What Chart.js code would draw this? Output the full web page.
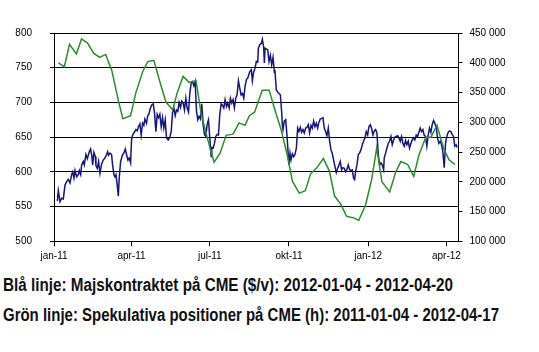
<!DOCTYPE html>
<html>
<head>
<meta charset="utf-8">
<script src="https://cdn.jsdelivr.net/npm/chart.js@4.4.1/dist/chart.umd.min.js"></script>
<style>
  body { margin: 0; background: #fff; }
  #wrap { position: relative; width: 539px; height: 270px; }
  #notes {
    position: absolute; left: 3px; top: 270px;
    font-family: "Liberation Sans", Arial, sans-serif;
    font-weight: bold; font-size: 17.5px; line-height: 30px; color: #111;
    white-space: nowrap;
  }
  #notes span { display: inline-block; transform-origin: 0 50%; }
</style>
</head>
<body>
<div id="wrap"><canvas id="chart"></canvas></div>
<div id="notes">
  <div><span id="line1">Blå linje: Majskontraktet på CME ($/v): 2012-01-04 - 2012-04-20</span></div>
  <div><span id="line2">Grön linje: Spekulativa positioner på CME (h): 2011-01-04 - 2012-04-17</span></div>
</div>
<script>
// x = days since 2011-01-01
var quarterDays = [0, 90, 181, 273, 365, 456];
var quarterLabels = ['jan-11', 'apr-11', 'jul-11', 'okt-11', 'jan-12', 'apr-12'];

// blue: corn future, $/v (left axis)
var blueDays = [3.9,5.0,7.0,8.9,10.8,12.8,14.7,16.6,18.6,20.5,21.7,23.2,24.4,26.3,28.2,29.4,31.0,32.1,34.0,35.2,37.1,38.7,41.0,42.5,44.1,44.9,46.4,48.0,48.7,50.3,51.8,53.4,55.3,57.2,59.2,61.1,62.3,63.4,65.0,66.9,68.1,69.6,70.8,72.0,73.5,74.7,75.8,77.4,79.7,81.2,82.8,84.3,85.9,87.4,89.0,90.1,91.3,92.8,95.2,96.7,98.2,99.8,101.3,102.9,104.4,105.6,107.5,108.7,110.2,
  111.4,113.3,115.3,116.8,118.4,119.9,121.5,123.0,124.6,126.1,127.6,129.2,130.7,132.7,134.6,136.2,137.7,139.3,140.8,142.3,143.9,145.4,147.0,148.5,150.1,151.6,153.2,154.7,156.3,157.8,159.4,160.9,162.5,164.0,165.6,167.1,168.6,170.2,171.7,173.3,174.8,176.4,177.9,179.5,181.0,182.6,183.3,184.9,186.4,188.0,189.5,191.1,192.6,194.2,195.7,197.3,198.8,200.4,201.9,203.5,205.0,206.6,208.1,209.6,211.2,212.7,214.3,215.8,217.4,218.9,220.5,222.0,223.6,225.1,
  227.4,229.3,230.5,232.0,233.6,235.1,236.7,237.5,239.0,241.0,242.1,243.6,244.4,245.2,246.7,248.3,249.8,251.4,252.9,254.5,256.0,256.8,258.3,259.9,261.4,263.0,264.5,265.3,266.1,267.6,269.2,270.7,272.3,273.0,274.2,275.4,276.9,278.5,280.0,281.6,283.1,284.6,286.2,287.7,289.3,290.8,292.4,293.9,295.5,297.0,298.6,300.1,301.7,303.2,304.8,306.3,307.9,309.4,311.0,312.5,314.0,315.6,317.1,318.7,320.2,321.8,323.3,324.9,326.4,328.0,329.5,331.1,332.6,334.2,335.7,337.3,338.8,340.3,341.9,
  343.5,345.0,346.6,348.1,349.3,350.5,352.0,353.6,355.1,356.7,358.2,359.7,361.3,362.8,364.4,365.9,367.5,369.0,370.6,372.1,373.7,375.2,376.8,378.3,379.9,381.4,383.0,383.7,385.3,386.8,388.4,389.9,391.5,393.0,394.6,396.1,397.7,399.2,400.7,402.3,403.8,405.4,406.9,408.5,410.0,411.6,413.1,414.7,416.2,417.8,419.3,420.9,422.4,424.0,425.5,427.0,428.6,430.1,431.7,433.2,434.8,436.3,437.9,439.4,441.0,442.5,444.1,445.6,447.2,448.7,450.3,451.8,453.4,454.9,456.4,458.0,459.5,461.1,462.6,464.2,465.7,467.3,468.4];
var bluePrices = [558,573,557,562,561,581,586,589,584,596,600,591,602,593,596,602,596,610,615,610,625,619,629,633,622,610,628,622,609,605,615,598,611,617,620,625,629,624,627,625,610,596,593,596,581,565,591,615,625,627,633,625,617,620,613,646,653,656,661,659,665,669,653,670,667,676,670,680,683,
  689,696,698,685,658,683,678,683,665,678,663,675,649,646,650,658,685,692,681,689,687,700,693,702,699,689,706,692,686,713,728,730,724,730,687,675,680,676,698,668,654,651,668,675,649,622,635,634,641,651,654,653,682,698,696,692,704,694,699,692,706,699,704,692,706,711,731,721,711,713,706,723,733,735,
  744,747,731,744,749,759,758,778,783,785,791,780,757,778,777,776,759,768,754,765,744,745,718,715,713,711,687,668,661,673,675,653,622,610,627,617,626,622,625,634,663,658,664,657,661,656,663,664,668,656,667,663,673,665,670,663,672,676,677,678,663,658,652,663,645,632,627,617,608,599,605,610,615,603,606,605,600,603,610,
  603,602,603,591,589,601,610,625,627,632,639,644,649,658,653,665,668,663,653,659,661,656,625,610,613,610,603,620,627,634,641,644,651,639,646,650,651,652,649,644,651,641,637,645,639,644,634,641,646,649,646,653,651,657,663,658,661,653,651,637,653,663,657,668,674,670,664,649,641,644,639,629,606,641,651,657,659,658,654,651,637,639,635];

// green: speculative positions, contracts (right axis)
var greenDays = [5,12,18,26,32,39,46,53,60,67,75,80,89,95,103,109,116,123,130,138,143,150,157,165,171,179,186,193,200,208,215,222,227,233,242,250,256,264,271,277,285,292,298,305,313,320,326,333,340,349,354,362,369,375,381,390,397,403,411,418,424,432,438,445,453,459,466];
var greenPositions = [400000,393000,431000,415000,440000,433000,416000,409000,414000,388000,335000,306000,311000,349000,385000,402000,404000,368000,334000,321000,349000,377000,367000,370000,314000,269000,233000,248000,278000,280000,299000,295000,311000,317000,354000,354000,324000,287000,245000,201000,181000,185000,213000,223000,239000,218000,176000,163000,142000,139000,135000,161000,203000,257000,200000,183000,216000,234000,229000,209000,245000,275000,275000,295000,255000,237000,229000];

function spaced(v){
    return String(v).replace(/\B(?=(\d{3})+(?!\d))/g, ' ');
}

// squeeze the caption lines to the condensed width of the original
function squeeze(id, target){
    var el = document.getElementById(id);
    var w = el.getBoundingClientRect().width;
    if (w > 0) el.style.transform = 'scaleX(' + (target / w) + ')';
}
squeeze('line1', 450);
squeeze('line2', 496);

var blue_data = [];
for(var i = 0; i<blueDays.length; i++){
    blue_data.push({x: blueDays[i], y: bluePrices[i]});
}
var green_data = [];
for(var j = 0; j<greenDays.length; j++){
    green_data.push({x: greenDays[j], y: greenPositions[j]});
}

var tickFont = {family: '"Liberation Sans", Arial, sans-serif', size: 10};

const data = {
    datasets: [{
        label: 'Grön linje',
        data: green_data,
        yAxisID: 'y1',
        borderColor: '#2a8c2a',
        borderWidth: 1.5,
        pointRadius: 0,
        tension: 0
    },{
        label: 'Blå linje',
        data: blue_data,
        yAxisID: 'y',
        borderColor: '#15157f',
        borderWidth: 1.5,
        pointRadius: 0,
        tension: 0
    }]
};

const config = {
    type: 'line',
    data,
    options: {
        responsive: true,
        maintainAspectRatio: false,
        animation: false,
        layout: {padding: {top: 33, left: 0, right: 0, bottom: 0}},
        plugins: {
            legend: {display: false},
            tooltip: {enabled: false}
        },
        scales: {
            x: {
                type: 'linear',
                min: 0,
                max: 470,
                afterBuildTicks: function(scale){
                    scale.ticks = quarterDays.map(function(d){ return {value: d}; });
                },
                afterFit: function(scale){ scale.height = 28.7; },
                ticks: {
                    autoSkip: false,
                    maxRotation: 0,
                    padding: 4,
                    color: '#000',
                    font: tickFont,
                    callback: function(value){
                        var k = quarterDays.indexOf(value);
                        return k >= 0 ? quarterLabels[k] : '';
                    }
                },
                grid: {drawOnChartArea: false, tickLength: 5, color: '#000'},
                border: {display: true, color: '#000'}
            },
            y: {
                position: 'left',
                min: 500,
                max: 800,
                afterFit: function(scale){ scale.width = 54; },
                ticks: {stepSize: 50, padding: 18, color: '#000', font: tickFont},
                grid: {color: '#000', lineWidth: 1, tickLength: 4},
                border: {display: true, color: '#000'}
            },
            y1: {
                position: 'right',
                min: 100000,
                max: 450000,
                afterFit: function(scale){ scale.width = 80.5; },
                ticks: {
                    stepSize: 50000,
                    padding: 7,
                    color: '#000',
                    font: tickFont,
                    callback: function(v){ return spaced(v); }
                },
                grid: {drawOnChartArea: false, color: '#000', tickLength: 4},
                border: {display: true, color: '#000'}
            }
        }
    }
};

const ctx = document.getElementById('chart').getContext('2d');
const myChart = new Chart(ctx, config);
</script>
</body>
</html>
